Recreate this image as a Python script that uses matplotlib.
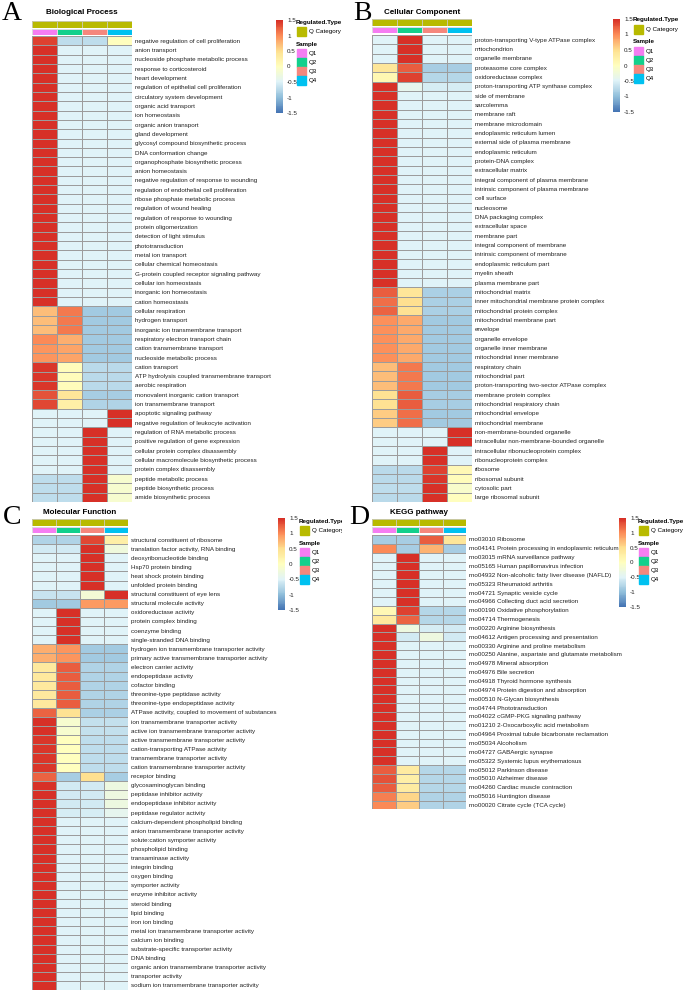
import matplotlib
matplotlib.use("Agg")
import matplotlib.pyplot as plt
import numpy as np
from matplotlib.colors import LinearSegmentedColormap, ListedColormap
from matplotlib.patches import Rectangle

# ---------------- data ----------------
samples = ["Q1", "Q2", "Q3", "Q4"]

# typical z-score rows: one sample up, three down
Q1_UP = [1.5, -0.5, -0.5, -0.5]
Q2_UP = [-0.5, 1.5, -0.5, -0.5]
Q3_UP = [-0.5, -0.5, 1.5, -0.5]
Q4_UP = [-0.5, -0.5, -0.5, 1.5]

bp_terms = [
    "negative regulation of cell proliferation", "anion transport",
    "nucleoside phosphate metabolic process", "response to corticosteroid",
    "heart development", "regulation of epithelial cell proliferation",
    "circulatory system development", "organic acid transport", "ion homeostasis",
    "organic anion transport", "gland development",
    "glycosyl compound biosynthetic process", "DNA conformation change",
    "organophosphate biosynthetic process", "anion homeostasis",
    "negative regulation of response to wounding",
    "regulation of endothelial cell proliferation",
    "ribose phosphate metabolic process", "regulation of wound healing",
    "regulation of response to wounding", "protein oligomerization",
    "detection of light stimulus", "phototransduction", "metal ion transport",
    "cellular chemical homeostasis", "G-protein coupled receptor signaling pathway",
    "cellular ion homeostasis", "inorganic ion homeostasis", "cation homeostasis",
    "cellular respiration", "hydrogen transport",
    "inorganic ion transmembrane transport", "respiratory electron transport chain",
    "cation transmembrane transport", "nucleoside metabolic process",
    "cation transport", "ATP hydrolysis coupled transmembrane transport",
    "aerobic respiration", "monovalent inorganic cation transport",
    "ion transmembrane transport", "apoptotic signaling pathway",
    "negative regulation of leukocyte activation",
    "regulation of RNA metabolic process", "positive regulation of gene expression",
    "cellular protein complex disassembly",
    "cellular macromolecule biosynthetic process", "protein complex disassembly",
    "peptide metabolic process", "peptide biosynthetic process",
    "amide biosynthetic process",
]
bp_values = (
    [[1.4, -0.7, -0.7, 0.0]] + [Q1_UP] * 28
    + [[0.7, 1.1, -0.9, -0.9]] * 3
    + [[1.0, 0.8, -0.9, -0.9]]
    + [[0.95, 0.85, -0.9, -0.9]] * 2
    + [[1.45, 0.05, -0.75, -0.75]] * 3
    + [[1.3, 0.4, -0.85, -0.85], [1.35, 0.25, -0.8, -0.8]]
    + [Q4_UP] * 2 + [Q3_UP] * 5
    + [[-0.7, -0.7, 1.5, -0.15]] * 3
)

cc_terms = [
    "proton-transporting V-type ATPase complex", "mitochondrion",
    "organelle membrane", "proteasome core complex", "oxidoreductase complex",
    "proton-transporting ATP synthase complex", "side of membrane", "sarcolemma",
    "membrane raft", "membrane microdomain", "endoplasmic reticulum lumen",
    "external side of plasma membrane", "endoplasmic reticulum",
    "protein-DNA complex", "extracellular matrix",
    "integral component of plasma membrane",
    "intrinsic component of plasma membrane", "cell surface", "nucleosome",
    "DNA packaging complex", "extracellular space", "membrane part",
    "integral component of membrane", "intrinsic component of membrane",
    "endoplasmic reticulum part", "myelin sheath", "plasma membrane part",
    "mitochondrial matrix", "inner mitochondrial membrane protein complex",
    "mitochondrial protein complex", "mitochondrial membrane part", "envelope",
    "organelle envelope", "organelle inner membrane",
    "mitochondrial inner membrane", "respiratory chain", "mitochondrial part",
    "proton-transporting two-sector ATPase complex", "membrane protein complex",
    "mitochondrial respiratory chain", "mitochondrial envelope",
    "mitochondrial membrane", "non-membrane-bounded organelle",
    "intracellular non-membrane-bounded organelle",
    "intracellular ribonucleoprotein complex", "ribonucleoprotein complex",
    "ribosome", "ribosomal subunit", "cytosolic part", "large ribosomal subunit",
]
cc_values = (
    [Q2_UP] * 3
    + [[0.4, 1.25, -0.85, -0.85], [0.15, 1.4, -0.78, -0.78],
       [1.5, -0.4, -0.55, -0.55]]
    + [Q1_UP] * 21
    + [[1.25, 0.4, -0.83, -0.83], [1.15, 0.5, -0.83, -0.83],
       [1.2, 0.45, -0.83, -0.83]]
    + [[0.97, 0.82, -0.9, -0.9]] * 5
    + [[0.7, 1.1, -0.9, -0.9]] * 3
    + [[0.45, 1.25, -0.85, -0.85]] * 2
    + [[0.6, 1.15, -0.88, -0.88]] * 2
    + [Q4_UP] * 2 + [Q3_UP] * 2
    + [[-0.75, -0.75, 1.4, 0.1], [-0.75, -0.75, 1.45, 0.05],
       [-0.7, -0.7, 1.5, -0.1], [-0.75, -0.75, 1.5, 0.0]]
)

mf_terms = [
    "structural constituent of ribosome", "translation factor activity, RNA binding",
    "deoxyribonucleotide binding", "Hsp70 protein binding",
    "heat shock protein binding", "unfolded protein binding",
    "structural constituent of eye lens", "structural molecule activity",
    "oxidoreductase activity", "protein complex binding", "coenzyme binding",
    "single-stranded DNA binding",
    "hydrogen ion transmembrane transporter activity",
    "primary active transmembrane transporter activity",
    "electron carrier activity", "endopeptidase activity", "cofactor binding",
    "threonine-type peptidase activity", "threonine-type endopeptidase activity",
    "ATPase activity, coupled to movement of substances",
    "ion transmembrane transporter activity",
    "active ion transmembrane transporter activity",
    "active transmembrane transporter activity",
    "cation-transporting ATPase activity", "transmembrane transporter activity",
    "cation transmembrane transporter activity", "receptor binding",
    "glycosaminoglycan binding", "peptidase inhibitor activity",
    "endopeptidase inhibitor activity", "peptidase regulator activity",
    "calcium-dependent phospholipid binding",
    "anion transmembrane transporter activity",
    "solute:cation symporter activity", "phospholipid binding",
    "transaminase activity", "integrin binding", "oxygen binding",
    "symporter activity", "enzyme inhibitor activity", "steroid binding",
    "lipid binding", "iron ion binding",
    "metal ion transmembrane transporter activity", "calcium ion binding",
    "substrate-specific transporter activity", "DNA binding",
    "organic anion transmembrane transporter activity", "transporter activity",
    "sodium ion transmembrane transporter activity",
]
mf_values = (
    [[-0.8, -0.8, 1.35, 0.25], [-0.6, -0.6, 1.5, -0.25]]
    + [Q3_UP] * 4
    + [[-0.65, -0.65, -0.2, 1.5], [-0.9, -0.9, 0.9, 0.9]]
    + [Q2_UP] * 4
    + [[0.8, 0.95, -0.88, -0.88]] * 2
    + [[0.35, 1.25, -0.8, -0.8]] * 5
    + [[1.2, 0.45, -0.83, -0.83]]
    + [[1.5, -0.15, -0.68, -0.68]] * 2
    + [[1.45, 0.0, -0.72, -0.72]] * 4
    + [[1.2, -0.85, 0.5, -0.85]]
    + [[1.5, -0.6, -0.6, -0.3]] * 3
    + [[1.5, -0.55, -0.55, -0.4]]
    + [Q1_UP] * 19
)

kegg_terms = [
    "rno03010 Ribosome", "rno04141 Protein processing in endoplasmic reticulum",
    "rno03015 mRNA surveillance pathway", "rno05165 Human papillomavirus infection",
    "rno04932 Non-alcoholic fatty liver disease (NAFLD)",
    "rno05323 Rheumatoid arthritis", "rno04721 Synaptic vesicle cycle",
    "rno04966 Collecting duct acid secretion", "rno00190 Oxidative phosphorylation",
    "rno04714 Thermogenesis", "rno00220 Arginine biosynthesis",
    "rno04612 Antigen processing and presentation",
    "rno00330 Arginine and proline metabolism",
    "rno00250 Alanine, aspartate and glutamate metabolism",
    "rno04978 Mineral absorption", "rno04976 Bile secretion",
    "rno04918 Thyroid hormone synthesis", "rno04974 Protein digestion and absorption",
    "rno00510 N-Glycan biosynthesis", "rno04744 Phototransduction",
    "rno04022 cGMP-PKG signaling pathway", "rno01210 2-Oxocarboxylic acid metabolism",
    "rno04964 Proximal tubule bicarbonate reclamation", "rno05034 Alcoholism",
    "rno04727 GABAergic synapse", "rno05322 Systemic lupus erythematosus",
    "rno05012 Parkinson disease", "rno05010 Alzheimer disease",
    "rno04260 Cardiac muscle contraction", "rno05016 Huntington disease",
    "rno00020 Citrate cycle (TCA cycle)",
]
kegg_values = (
    [[-0.85, -0.85, 1.25, 0.4], [1.0, -0.85, 0.75, -0.85]]
    + [Q2_UP] * 6
    + [[0.1, 1.4, -0.78, -0.78], [0.35, 1.2, -0.78, -0.78],
       [1.5, -0.3, -0.55, -0.6], [1.5, -0.6, -0.3, -0.6]]
    + [Q1_UP] * 14
    + [[1.25, 0.3, -0.78, -0.78], [1.3, 0.25, -0.78, -0.78],
       [1.25, 0.3, -0.78, -0.78], [1.05, 0.55, -0.8, -0.8],
       [1.0, 0.6, -0.8, -0.8]]
)

cbar_ticks = [1.5, 1, 0.5, 0, -0.5, -1, -1.5]

# ---------------- style ----------------
W, H = 683, 993
FONT = "Liberation Sans"
SMALL = 4.5
GRID = "#9c9c9c"
Q_COLOR = "#B8BA00"
SAMPLE_COLORS = ["#F57DF2", "#12D08C", "#F5877D", "#00C1F0"]
heat_cmap = LinearSegmentedColormap.from_list(
    "rdylbu", ["#4575B4", "#91BFDB", "#E0F3F8", "#FFFFBF", "#FEE090", "#FC8D59", "#D73027"], N=100)

fig = plt.figure(figsize=(W / 100, H / 100), dpi=100)


def px_axes(x, y, w, h):
    return fig.add_axes([x / W, 1 - (y + h) / H, w / W, h / H])


def draw_heatmap(terms, values, x, w, ann_y, top, row_h):
    n = len(terms)
    ax = px_axes(x, top, w, n * row_h)
    ax.pcolormesh(np.array(values), cmap=heat_cmap, vmin=-1.5, vmax=1.5,
                  edgecolors=GRID, linewidth=0.5)
    ax.set_xlim(0, 4)
    ax.set_ylim(n, 0)
    ax.set_xticks([])
    ax.yaxis.tick_right()
    ax.set_yticks(np.arange(n) + 0.5)
    ax.set_yticklabels(terms, fontsize=SMALL, family=FONT, color="#222222")
    ax.tick_params(axis="y", length=0, pad=2)
    for s in ax.spines.values():
        s.set_visible(False)

    # annotation rows on top
    qa = px_axes(x, ann_y, w, 6.5)
    qa.pcolormesh(np.zeros((1, 4)), cmap=ListedColormap([Q_COLOR]),
                  edgecolors="#c8c8a0", linewidth=0.5)
    sa = px_axes(x, ann_y + 7.8, w, 6.5)
    sa.pcolormesh(np.arange(4).reshape(1, 4), cmap=ListedColormap(SAMPLE_COLORS),
                  vmin=-0.5, vmax=3.5, edgecolors="#dddddd", linewidth=0.5)
    for a in (qa, sa):
        a.set_xlim(0, 4)
        a.axis("off")


def draw_legend(cb_x, cb_y, cb_h, lx, ly, right):
    cb = px_axes(cb_x, cb_y, 7, cb_h)
    grad = np.linspace(-1.5, 1.5, 100).reshape(-1, 1)
    cb.pcolormesh([0, 1], np.linspace(-1.5, 1.5, 101), grad, cmap=heat_cmap,
                  vmin=-1.5, vmax=1.5)
    cb.set_ylim(-1.5, 1.5)
    cb.set_xticks([])
    cb.yaxis.tick_right()
    cb.set_yticks(cbar_ticks)
    cb.set_yticklabels([f"{t:g}" for t in cbar_ticks], fontsize=SMALL, family=FONT,
                       color="#222222")
    cb.tick_params(axis="y", length=0, pad=3)
    for s in cb.spines.values():
        s.set_visible(False)

    # discrete legend drawn in pixel coordinates, clipped at `right`
    la = px_axes(lx - 2, ly - 8, right - lx + 2, 100)
    la.set_xlim(lx - 2, right)
    la.set_ylim(ly + 92, ly - 8)
    la.axis("off")
    la.text(lx, ly, "Regulated.Type", fontsize=SMALL, family=FONT, weight="bold",
            va="center", clip_on=True)
    la.add_patch(Rectangle((lx + 1, ly + 5), 9, 8.5, color=Q_COLOR))
    la.text(lx + 13, ly + 9.2, "Q Category", fontsize=SMALL, family=FONT,
            va="center", clip_on=True)
    la.text(lx, ly + 22, "Sample", fontsize=SMALL, family=FONT, weight="bold",
            va="center", clip_on=True)
    for i, (name, col) in enumerate(zip(samples, SAMPLE_COLORS)):
        la.add_patch(Rectangle((lx + 1, ly + 27 + 9 * i), 9, 9, color=col))
        la.text(lx + 13, ly + 31.5 + 9 * i, name, fontsize=SMALL, family=FONT,
                va="center", clip_on=True)


def panel_text(letter, lxy, title, txy):
    fig.text(lxy[0] / W, 1 - lxy[1] / H, letter, fontsize=20, family="Liberation Serif",
             ha="center", va="center")
    fig.text(txy[0] / W, 1 - txy[1] / H, title, fontsize=5.8, family=FONT,
             weight="bold", ha="center", va="center")


# A - Biological Process
draw_heatmap(bp_terms, bp_values, 32, 100, 21, 36, 9.32)
draw_legend(276, 20, 93, 296, 22, 342)
panel_text("A", (12, 14), "Biological Process", (82, 13))

# B - Cellular Component
draw_heatmap(cc_terms, cc_values, 372, 100, 19, 35, 9.34)
draw_legend(613, 19, 93, 633, 20, 683)
panel_text("B", (362, 14), "Cellular Component", (422, 12))

# C - Molecular Function
draw_heatmap(mf_terms, mf_values, 32, 96, 519, 535, 9.1)
draw_legend(278, 518, 92, 299, 521, 342)
panel_text("C", (12, 517), "Molecular Function", (80, 512))

# D - KEGG pathway
draw_heatmap(kegg_terms, kegg_values, 372, 94, 519, 535, 8.85)
draw_legend(619, 518, 89, 638, 521, 683)
panel_text("D", (359, 517), "KEGG pathway", (419, 512))

fig.savefig("out.png", dpi=100, facecolor="white")
